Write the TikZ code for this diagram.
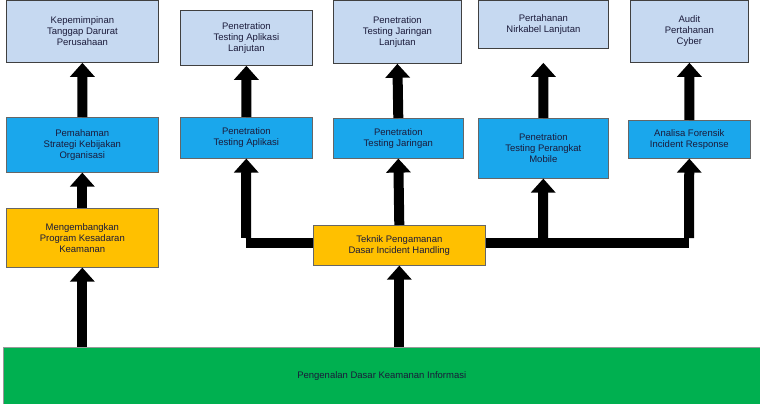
\documentclass[tikz,border=0pt]{standalone}
\usepackage{fontspec}
\setmainfont{Liberation Sans}
\usetikzlibrary{arrows.meta}
\definecolor{topblue}{HTML}{C6D9F1}
\definecolor{midblue}{HTML}{1AA7EC}
\definecolor{ylw}{HTML}{FFC000}
\definecolor{grn}{HTML}{00B050}
\definecolor{txt}{HTML}{1A1A3A}
\tikzset{
  box/.style={anchor=north west, inner sep=0pt, align=center, font=\fontsize{9.5}{11}\selectfont, text=txt},
  topbox/.style={box, fill=topblue, draw=black!75, line width=0.8pt},
  midbox/.style={box, fill=midblue, draw=black!60, line width=0.6pt},
  ylwbox/.style={box, fill=ylw, draw=black!60, line width=0.6pt},
  grnbox/.style={box, fill=grn, draw=black!40, line width=0.5pt},
  flow/.style={line width=10pt, black, -{Triangle[width=24pt,length=14pt]}},
  bar/.style={line width=10pt, black},
}
\begin{document}
\begin{tikzpicture}[x=1pt,y=-1pt]
\useasboundingbox (0,0) rectangle (760,404);
% top row
\node[topbox, minimum width=152pt, minimum height=62pt] (t1) at (6,0) {Kepemimpinan\\Tanggap Darurat\\Perusahaan};
\node[topbox, minimum width=132pt, minimum height=55pt] (t2) at (180,10) {Penetration\\Testing Aplikasi\\Lanjutan};
\node[topbox, minimum width=128pt, minimum height=63pt] (t3) at (333,0) {Penetration\\Testing Jaringan\\Lanjutan};
\node[topbox, minimum width=130pt, minimum height=48pt] (t4) at (478,0) {Pertahanan\\Nirkabel Lanjutan};
\node[topbox, minimum width=118pt, minimum height=62pt] (t5) at (630,0) {Audit\\Pertahanan\\Cyber};
% middle row
\node[midbox, minimum width=152pt, minimum height=55pt] (m1) at (6,117) {Pemahaman\\Strategi Kebijakan\\Organisasi};
\node[midbox, minimum width=132pt, minimum height=41pt] (m2) at (180,117) {Penetration\\Testing Aplikasi};
\node[midbox, minimum width=130pt, minimum height=40pt] (m3) at (333,118) {Penetration\\Testing Jaringan};
\node[midbox, minimum width=130pt, minimum height=60pt] (m4) at (478,118) {Penetration\\Testing Perangkat\\Mobile};
\node[midbox, minimum width=122pt, minimum height=38pt] (m5) at (628,120) {Analisa Forensik\\Incident Response};
% yellow
\node[ylwbox, minimum width=152pt, minimum height=59pt] (y1) at (6,208) {Mengembangkan\\Program Kesadaran\\Keamanan};
% connectors from the central yellow box (drawn first so the box sits on top)
\coordinate (hl) at (246,243);
\coordinate (hr) at (689,243);
\coordinate (hm) at (543,243);
\draw[bar] (hl) -- (hr);
\draw[flow] ([yshift=5pt]hl) -- (m2.south);
\draw[flow] ([yshift=5pt]hr) -- (m5.south);
\draw[flow] (hm) -- (m4.south);
\node[ylwbox, minimum width=172pt, minimum height=40pt] (y2) at (313,225) {Teknik Pengamanan\\Dasar Incident Handling};
\draw[flow] (y2.north) -- (m3.south);
% green
\node[grnbox, minimum width=757pt, minimum height=57pt] (g) at (3,347) {Pengenalan Dasar Keamanan Informasi};
% vertical arrows
\draw[flow] (g.north -| y1.south) -- (y1.south);
\draw[flow] (g.north -| y2.south) -- (y2.south);
\draw[flow] (y1.north) -- (m1.south);
\draw[flow] (m1.north) -- (t1.south);
\draw[flow] (m2.north) -- (t2.south);
\draw[flow] (m3.north) -- (t3.south);
\draw[flow, shorten >=14pt] (m4.north) -- (t4.south);
\draw[flow] (m5.north) -- (t5.south);
\end{tikzpicture}
\end{document}
